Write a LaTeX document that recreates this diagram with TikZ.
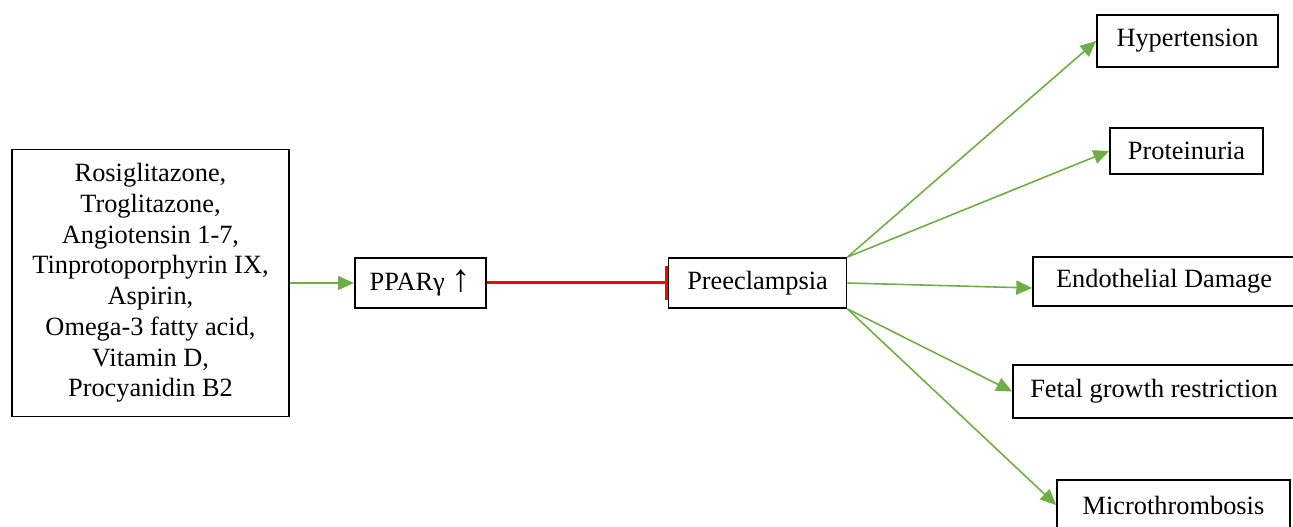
\documentclass[tikz,border=0pt]{standalone}
\usepackage{fontspec}
\setmainfont{Liberation Serif}
\usepackage{tikz}
\usetikzlibrary{positioning,arrows.meta}

\definecolor{leafgreen}{RGB}{112,173,71}

\begin{document}
\begin{tikzpicture}[
    boxnode/.style={rectangle, draw=black, line width=1pt, align=center, inner sep=2pt,
        font=\fontsize{15}{17.5}\selectfont},
    greenarrow/.style={-{Triangle[length=9pt, width=8pt]}, draw=leafgreen, fill=leafgreen, line width=0.9pt},
    redblock/.style={-{Bar[width=0.68cm, line width=1.7pt]}, draw=red, line width=1.7pt}
    ]
        \useasboundingbox (0,0) rectangle (25.86,10.54);
        %Nodes
        \node[boxnode, minimum width=5.54cm, minimum height=5.34cm]
            (drugs) at (3.01,4.88) {Rosiglitazone,\\Troglitazone,\\Angiotensin 1-7,\\Tinprotoporphyrin IX,\\Aspirin,\\Omega-3 fatty acid,\\Vitamin D,\\Procyanidin B2};
        \node[boxnode, minimum width=2.62cm, minimum height=1cm]
            (ppar)  [right=1.28cm of drugs]  {PPARγ {\fontsize{22}{22}\selectfont\raisebox{-1pt}{↑}}};
        \node[boxnode, minimum width=3.56cm, minimum height=1cm]
            (pre)   [right=3.62cm of ppar]   {Preeclampsia};
        \node[boxnode, minimum width=3.62cm, minimum height=1.04cm]
            (hyp)   at (23.75,9.72)  {Hypertension};
        \node[boxnode, minimum width=3.06cm, minimum height=0.92cm]
            (prot)  at (23.73,7.52)  {Proteinuria};
        \node[boxnode, minimum width=5.24cm, minimum height=0.98cm]
            (endo)  at (23.28,4.91)  {Endothelial Damage};
        \node[boxnode, minimum width=5.64cm, minimum height=1.06cm]
            (fetal) at (23.08,2.71)  {Fetal growth restriction};
        \node[boxnode, minimum width=4.66cm, minimum height=1cm]
            (micro) at (23.47,0.44)  {Microthrombosis};

        %Lines
        \draw[greenarrow] (drugs.east) -- (ppar.west);
        \draw[redblock] (ppar.east) -- (pre.west);
        \draw[greenarrow] (pre.north east) -- (hyp.west);
        \draw[greenarrow] (pre.north east) -- (prot.west);
        \draw[greenarrow] (pre.east) -- ([yshift=-0.13cm]endo.west);
        \draw[greenarrow] (pre.south east) -- (fetal.west);
        \draw[greenarrow] (pre.south east) -- (micro.west);
    \end{tikzpicture}
\end{document}
